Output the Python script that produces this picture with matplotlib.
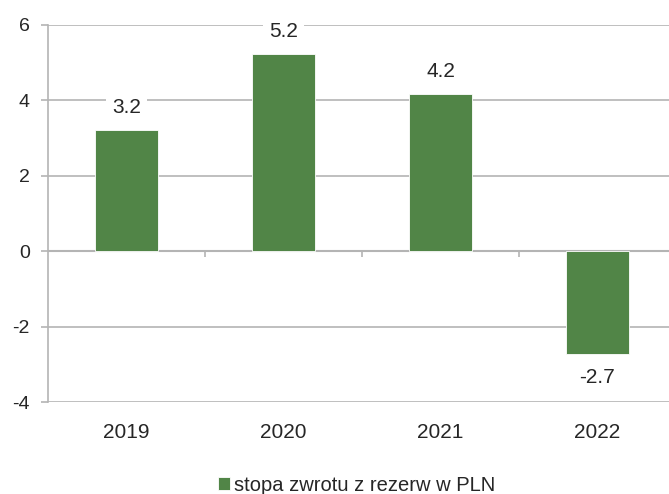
import matplotlib.pyplot as plt

years = ["2019", "2020", "2021", "2022"]
returns = [3.22, 5.23, 4.17, -2.72]
labels = ["3.2", "5.2", "4.2", "-2.7"]
series_name = "stopa zwrotu z rezerw w PLN"

plt.rcParams["font.family"] = ["Liberation Sans", "DejaVu Sans"]
plt.rcParams["axes.unicode_minus"] = False
green = "#518547"
grid_c = "#b4b4b4"
text_c = "#262626"

fig = plt.figure(figsize=(6.69, 4.94), dpi=100)
ax = fig.add_axes([48 / 669, 1 - 402 / 494, 621 / 669, 377 / 494])

x = list(range(len(years)))
bars = ax.bar(x, returns, width=0.4, color=green, edgecolor="white",
              linewidth=0.6, label=series_name, zorder=3)

ax.set_ylim(-4, 6)
ax.set_xlim(-0.5, -0.5 + 621 / 157)
ax.set_yticks([-4, -2, 0, 2, 4, 6])
ax.grid(axis="y", color=grid_c, linewidth=1.2, zorder=0)
ax.axhline(0, color=grid_c, linewidth=1.5, zorder=2)
ax.vlines([0.5, 1.5, 2.5], -0.16, 0, color=grid_c, linewidth=1.2, zorder=2)

for s in ["top", "right", "bottom"]:
    ax.spines[s].set_visible(False)
ax.spines["left"].set_color(grid_c)
ax.spines["left"].set_linewidth(1.2)

ax.set_xticks(x)
ax.set_xticklabels(years)
ax.tick_params(axis="x", length=0, pad=15, labelsize=15, labelcolor=text_c)
ax.tick_params(axis="y", length=5, width=1.2, color=grid_c, pad=8,
               labelsize=14, labelcolor=text_c)

for b, v, lab in zip(bars, returns, labels):
    off = 16 if v >= 0 else -17
    ax.annotate(lab, (b.get_x() + b.get_width() / 2, v), xytext=(0, off),
                textcoords="offset points", ha="center", va="center",
                fontsize=15, color=text_c, zorder=4,
                bbox=dict(boxstyle="square,pad=0.3", fc="white", ec="none"))

fig.legend(handles=[bars], labels=[series_name], loc="lower center",
           bbox_to_anchor=(0.533, -0.038), frameon=False, fontsize=14.5,
           handlelength=0.6, handleheight=0.6, handletextpad=0.15,
           labelcolor=text_c)

plt.savefig("out.png", dpi=100)
